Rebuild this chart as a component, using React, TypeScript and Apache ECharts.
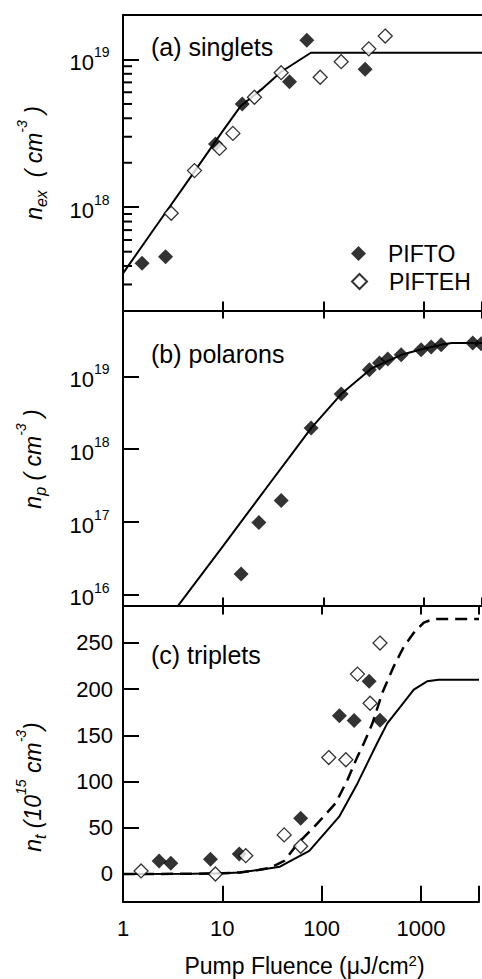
import React, { useEffect, useRef } from "react";
import * as echarts from "echarts";

const FONT = '"Liberation Sans", Arial, Helvetica, sans-serif';

// shared x axis (log)
const xMin = 1;
const xMax = 3830;

// (a) singlets
const aPiftoX = [1.55, 2.66, 8.38, 15.5, 45.9, 68.3, 261];
const aPiftoY = [4.18e17, 4.63e17, 2.68e18, 5.0e18, 7.08e18, 1.35e19, 8.59e18];
const aPifehX = [3.03, 5.17, 9.18, 12.5, 20.5, 37.9, 92.9, 150.6, 284, 414];
const aPifehY = [9.1e17, 1.77e18, 2.5e18, 3.16e18, 5.55e18, 8.14e18, 7.58e18, 9.66e18, 1.18e19, 1.44e19];
const aFitX = [1, 2, 5, 10, 15, 25, 38, 75, 3830];
const aFitY = [3.57e17, 6.98e17, 1.69e18, 3.31e18, 4.85e18, 6.4e18, 8.26e18, 1.11e19, 1.11e19];
const aMinorTicks = [3e17, 4e17, 5e17, 6e17, 7e17, 8e17, 9e17, 2e18, 3e18, 4e18, 5e18, 6e18, 7e18, 8e18, 9e18];

// (b) polarons
const bPiftoX = [15.1, 22.7, 37.9, 75.5, 150.6, 288, 363, 439, 598, 946, 1191, 1499, 3098, 3758];
const bPiftoY = [1.92e16, 9.8e16, 1.97e17, 1.94e18, 5.69e18, 1.23e19, 1.52e19, 1.72e19, 1.97e19, 2.31e19, 2.52e19, 2.71e19, 2.86e19, 2.8e19];
const bFitX = [3, 10, 30, 50, 75.5, 150.6, 300, 600, 1000, 1500, 1900, 3830];
const bFitY = [5.2e15, 4.7e16, 3.56e17, 9.1e17, 1.94e18, 5.69e18, 1.27e19, 1.97e19, 2.38e19, 2.7e19, 2.86e19, 2.86e19];

// (c) triplets (10^15 cm^-3)
const cPiftoX = [2.31, 3.03, 7.59, 14.8, 61.4, 150.6, 212, 300, 386];
const cPiftoY = [14.1, 11.6, 15.9, 21.7, 60.4, 171.3, 166.2, 208.5, 166.4];
const cPifehX = [1.52, 8.51, 17.2, 41.9, 61.4, 117.8, 175, 229, 307, 386];
const cPifehY = [3.3, 0, 19.8, 42.3, 30, 126, 123.6, 216.3, 184.8, 249.9];
const cSolidX = [1, 5, 10, 15, 23, 38, 75, 150, 229, 288, 363, 457, 621, 845, 1150, 1500, 3830];
const cSolidY = [0, 0.2, 0.8, 1.6, 4.3, 7.9, 25, 62, 98, 120, 142, 163, 181, 199.5, 208.5, 210.3, 210.3];
const cDashX = [1, 5, 10, 15, 23, 30, 42.4, 57.5, 91, 139, 182, 229, 267, 324, 407, 533, 671, 845, 1064, 1340, 3830];
const cDashY = [0, 0.2, 0.8, 1.6, 4.3, 6.5, 14.5, 33, 55, 77, 102, 127, 142, 163, 196, 225, 246, 261, 272, 276, 276];
const cTicks = [0, 50, 100, 150, 200, 250];

const pairs = (xs: number[], ys: number[]) => xs.map((x, i) => [x, ys[i]]);

const BLACK = "#000";
const axisLine = { show: true, onZero: false, lineStyle: { color: BLACK, width: 2 } };
const noSplit = { show: false };
const MINOR_TICK_LEN = 9;

const isPow10 = (v: number) => {
  const l = Math.log10(v);
  return Math.abs(l - Math.round(l)) < 1e-6;
};

const yLogRich = {
  b: { fontSize: 22, fontFamily: FONT, color: BLACK, verticalAlign: "bottom", padding: [6.4, 0, 0, 0] },
  s: { fontSize: 14, fontFamily: FONT, color: BLACK, verticalAlign: "top" },
};

const nameRich = {
  i: { fontSize: 23, fontStyle: "italic", fontFamily: FONT, fill: BLACK, color: BLACK, verticalAlign: "middle", padding: [7.4, 0, 3.9, 0] },
  sub: { fontSize: 16, fontStyle: "italic", fontFamily: FONT, fill: BLACK, color: BLACK, verticalAlign: "bottom" },
  sup: { fontSize: 14, fontStyle: "italic", fontFamily: FONT, fill: BLACK, color: BLACK, verticalAlign: "top" },
};

function xAxisDef(gridIndex: number, position: string, tickLen: number, showLabels: boolean) {
  return {
    type: "log",
    logBase: 10,
    gridIndex,
    position,
    min: xMin,
    max: xMax,
    axisLine,
    axisTick: { show: tickLen > 0, inside: true, length: tickLen, lineStyle: { color: BLACK, width: 2 } },
    axisLabel: {
      show: showLabels,
      margin: 16,
      fontSize: 22,
      fontFamily: FONT,
      color: BLACK,
      formatter: (v: number) => (isPow10(v) ? String(Math.round(v)) : ""),
    },
    splitLine: noSplit,
  };
}

function yLogDef(gridIndex: number, min: number, max: number) {
  return {
    type: "log",
    logBase: 10,
    gridIndex,
    position: "left",
    min,
    max,
    axisLine,
    axisTick: { show: true, inside: true, length: 16, lineStyle: { color: BLACK, width: 2 } },
    axisLabel: {
      margin: 13.5,
      formatter: (v: number) => (isPow10(v) ? `{b|10}{s|${Math.round(Math.log10(v))}}` : ""),
      rich: yLogRich,
    },
    splitLine: noSplit,
  };
}

const legendText = { fontSize: 23, color: BLACK, fontFamily: FONT, padding: [0, 0, 0, 17], lineHeight: 14 };

const baseGraphic = [
  { id: "lab-a", type: "text", x: 151, y: 47, style: { text: "(a) singlets", fontSize: 25, fontFamily: FONT, fill: BLACK, verticalAlign: "middle" } },
  { id: "lab-b", type: "text", x: 151, y: 354, style: { text: "(b) polarons", fontSize: 25, fontFamily: FONT, fill: BLACK, verticalAlign: "middle" } },
  { id: "lab-c", type: "text", x: 151, y: 655, style: { text: "(c) triplets", fontSize: 25, fontFamily: FONT, fill: BLACK, verticalAlign: "middle" } },
  {
    id: "name-a",
    type: "text",
    x: 32.5,
    y: 163,
    rotation: Math.PI / 2,
    style: { text: "{i|n}{sub|ex}{i|  ( cm}{sup|-3}{i| )}", rich: nameRich, align: "center", verticalAlign: "middle" },
  },
  {
    id: "name-b",
    type: "text",
    x: 31,
    y: 459,
    rotation: Math.PI / 2,
    style: { text: "{i|n}{sub|p}{i| ( cm}{sup|-3}{i| )}", rich: nameRich, align: "center", verticalAlign: "middle" },
  },
  {
    id: "name-c",
    type: "text",
    x: 31,
    y: 787,
    rotation: Math.PI / 2,
    style: { text: "{i|n}{sub|t}{i| (10}{sup|15}{i| cm}{sup|-3}{i|)}", rich: nameRich, align: "center", verticalAlign: "middle" },
  },
  {
    id: "name-x",
    type: "text",
    x: 304.5,
    y: 965,
    style: {
      text: "{a|Pump Fluence (μJ/cm}{s|2}{a|)}",
      align: "center",
      verticalAlign: "middle",
      rich: {
        a: { fontSize: 23, fontFamily: FONT, fill: BLACK, color: BLACK, verticalAlign: "bottom", padding: [1.5, 0, 0, 0] },
        s: { fontSize: 15, fontFamily: FONT, fill: BLACK, color: BLACK, verticalAlign: "top" },
      },
    },
  },
];

const option = {
  animation: false,
  backgroundColor: "#fff",
  textStyle: { fontFamily: FONT },
  grid: [
    { left: 123, right: 0, top: 15, height: 295.5 },
    { left: 123, right: 0, top: 310.5, height: 295.5 },
    { left: 123, right: 0, top: 606, height: 295.7 },
  ],
  xAxis: [
    xAxisDef(0, "bottom", 9, false),
    xAxisDef(0, "top", 0, false),
    xAxisDef(1, "bottom", 8.5, false),
    xAxisDef(1, "top", 8, false),
    xAxisDef(2, "bottom", 16, true),
    xAxisDef(2, "top", 8.5, false),
  ],
  yAxis: [
    yLogDef(0, 2e17, 2e19),
    yLogDef(1, 7e15, 8e19),
    {
      type: "value",
      gridIndex: 2,
      position: "left",
      min: -30,
      max: 290,
      axisLine,
      axisTick: { show: true, inside: true, length: 16, customValues: cTicks, lineStyle: { color: BLACK, width: 2 } },
      axisLabel: { margin: 10, fontSize: 22, fontFamily: FONT, color: BLACK, customValues: cTicks },
      splitLine: noSplit,
    },
  ],
  legend: [
    {
      data: [{ name: "PIFTO" }],
      left: 346,
      top: 237,
      orient: "vertical",
      itemWidth: 15,
      itemHeight: 15,
      selectedMode: false,
      textStyle: legendText,
    },
    {
      data: [{ name: "PIFTEH" }],
      left: 346,
      top: 265,
      orient: "vertical",
      itemWidth: 15,
      itemHeight: 15,
      selectedMode: false,
      textStyle: legendText,
    },
  ],
  graphic: baseGraphic,
  series: [
    // (a)
    { type: "line", name: "fit a", xAxisIndex: 0, yAxisIndex: 0, data: pairs(aFitX, aFitY), symbol: "none", lineStyle: { color: BLACK, width: 2 }, z: 2 },
    { type: "scatter", name: "PIFTO", xAxisIndex: 0, yAxisIndex: 0, data: pairs(aPiftoX, aPiftoY), symbol: "diamond", symbolSize: 15, itemStyle: { color: BLACK }, z: 3 },
    { type: "scatter", name: "PIFTEH", xAxisIndex: 0, yAxisIndex: 0, data: pairs(aPifehX, aPifehY), symbol: "diamond", symbolSize: 14, itemStyle: { color: "#fff", borderColor: BLACK, borderWidth: 1.3 }, z: 4 },
    // (b)
    { type: "line", name: "fit b", xAxisIndex: 2, yAxisIndex: 1, data: pairs(bFitX, bFitY), symbol: "none", lineStyle: { color: BLACK, width: 2 }, z: 2 },
    { type: "scatter", name: "PIFTO", xAxisIndex: 2, yAxisIndex: 1, data: pairs(bPiftoX, bPiftoY), symbol: "diamond", symbolSize: 15, itemStyle: { color: BLACK }, z: 3 },
    // (c)
    { type: "line", name: "fit c solid", xAxisIndex: 4, yAxisIndex: 2, data: pairs(cSolidX, cSolidY), symbol: "none", lineStyle: { color: BLACK, width: 2 }, z: 2 },
    { type: "line", name: "fit c dashed", xAxisIndex: 4, yAxisIndex: 2, data: pairs(cDashX, cDashY), symbol: "none", lineStyle: { color: BLACK, width: 2.5, type: [12, 7] }, z: 2 },
    { type: "scatter", name: "PIFTO", xAxisIndex: 4, yAxisIndex: 2, data: pairs(cPiftoX, cPiftoY), symbol: "diamond", symbolSize: 15, itemStyle: { color: BLACK }, z: 3 },
    { type: "scatter", name: "PIFTEH", xAxisIndex: 4, yAxisIndex: 2, data: pairs(cPifehX, cPifehY), symbol: "diamond", symbolSize: 14, itemStyle: { color: "#fff", borderColor: BLACK, borderWidth: 1.3 }, z: 4 },
  ],
};

export default function App() {
  const ref = useRef<HTMLDivElement>(null);
  useEffect(() => {
    if (!ref.current) return;
    const chart = echarts.init(ref.current, null, { renderer: "svg" });
    chart.setOption(option as any);
    // minor ticks of panel (a)'s log axis, positioned through the axis scale
    const minorLines: any[] = [];
    aMinorTicks.forEach((v, i) => {
      const p = chart.convertToPixel({ xAxisIndex: 0, yAxisIndex: 0 } as any, [xMin, v]) as any;
      if (p && isFinite(p[0]) && isFinite(p[1])) {
        minorLines.push({
          id: "minor-" + i,
          type: "line",
          z: 100,
          silent: true,
          shape: { x1: p[0], y1: p[1], x2: p[0] + MINOR_TICK_LEN, y2: p[1] },
          style: { stroke: BLACK, lineWidth: 2 },
        });
      }
    });
    chart.setOption({ graphic: [...baseGraphic, ...minorLines] } as any);
    return () => chart.dispose();
  }, []);
  return (
    <div
      ref={ref}
      style={{ position: "fixed", left: 0, top: 0, width: 482, height: 979, background: "#fff" }}
    />
  );
}
